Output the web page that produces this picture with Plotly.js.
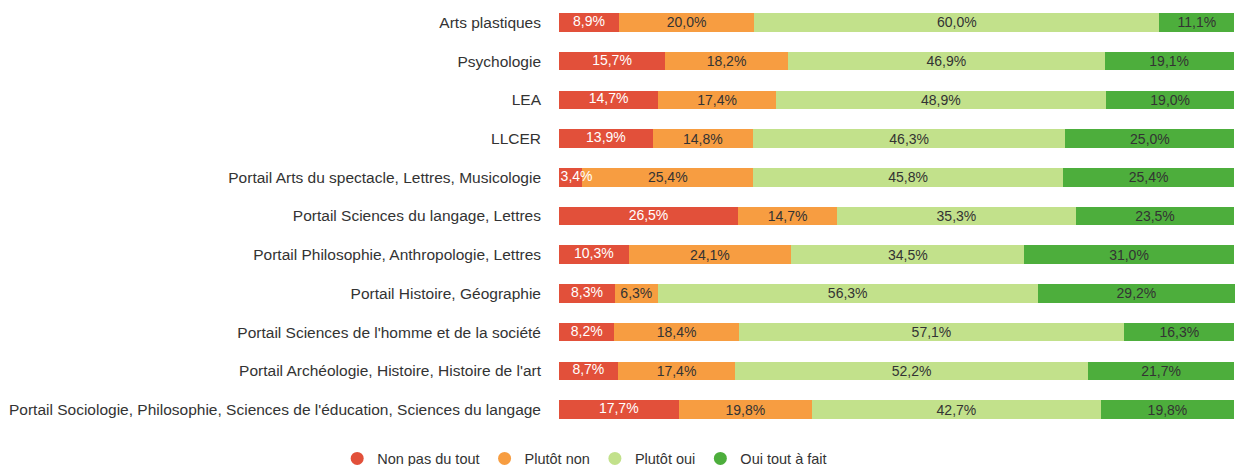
<!DOCTYPE html>
<html><head><meta charset="utf-8">
<script src="https://cdn.plot.ly/plotly-3.0.1.min.js"></script>
<style>html,body{margin:0;padding:0;background:#fff}#chart{width:1244px;height:466px}</style>
</head><body><div id="chart"></div>
<script>
const categories = [
  "Arts plastiques",
  "Psychologie",
  "LEA",
  "LLCER",
  "Portail Arts du spectacle, Lettres, Musicologie",
  "Portail Sciences du langage, Lettres",
  "Portail Philosophie, Anthropologie, Lettres",
  "Portail Histoire, Géographie",
  "Portail Sciences de l'homme et de la société",
  "Portail Archéologie, Histoire, Histoire de l'art",
  "Portail Sociologie, Philosophie, Sciences de l'éducation, Sciences du langage"
];
const seriesNames = ["Non pas du tout", "Plutôt non", "Plutôt oui", "Oui tout à fait"];
const nonPasDuTout = [8.9, 15.7, 14.7, 13.9, 3.4, 26.5, 10.3, 8.3, 8.2, 8.7, 17.7];
const plutotNon    = [20.0, 18.2, 17.4, 14.8, 25.4, 14.7, 24.1, 6.3, 18.4, 17.4, 19.8];
const plutotOui    = [60.0, 46.9, 48.9, 46.3, 45.8, 35.3, 34.5, 56.3, 57.1, 52.2, 42.7];
const ouiToutAFait = [11.1, 19.1, 19.0, 25.0, 25.4, 23.5, 31.0, 29.2, 16.3, 21.7, 19.8];

const seriesValues = [nonPasDuTout, plutotNon, plutotOui, ouiToutAFait];
const colors = ["#e2503a", "#f79d41", "#c2e18b", "#4dae3c"];
const textColors = ["#ffffff", "#333333", "#333333", "#333333"];
const fmt = v => v.toFixed(1).replace('.', ',') + '%';
const FONT = 'Liberation Sans, Arial, sans-serif';
const LABEL_SIZE = 14;
// minimal half-width of a label in axis units, so narrow first segments keep their label inside the plot
const MIN_HALF = 2.6;
const totals = categories.map((_, k) => seriesValues.reduce((s, arr) => s + arr[k], 0));
const xMax = Math.max(100, ...totals);

const traces = [];
seriesValues.forEach((vals, i) => {
  traces.push({
    type: 'bar', orientation: 'h',
    x: vals, y: categories,
    name: seriesNames[i],
    marker: {color: colors[i]},
    text: i === 0 ? vals.map(() => '') : vals.map(fmt),
    textposition: i === 0 ? 'none' : 'inside',
    insidetextanchor: 'middle',
    textangle: 0,
    constraintext: 'none',
    insidetextfont: {color: textColors[i], size: LABEL_SIZE, family: FONT},
    hoverinfo: 'skip',
    showlegend: false
  });
});
// labels of the first segment, drawn on top of all bars
traces.push({
  type: 'scatter', mode: 'text',
  x: nonPasDuTout.map(v => Math.max(v / 2, MIN_HALF)),
  y: categories,
  text: nonPasDuTout.map(fmt),
  textposition: 'middle center',
  textfont: {color: textColors[0], size: LABEL_SIZE, family: FONT},
  cliponaxis: false, hoverinfo: 'skip', showlegend: false
});
seriesNames.forEach((n, i) => {
  traces.push({
    type: 'scatter', mode: 'markers',
    x: [null], y: [null],
    name: n,
    marker: {color: colors[i], size: 13, symbol: 'circle'},
    showlegend: true, hoverinfo: 'skip'
  });
});

const layout = {
  width: 1244, height: 466,
  margin: {l: 559, r: 9, t: 3, b: 37},
  barmode: 'stack',
  bargap: 0.52,
  paper_bgcolor: '#fff', plot_bgcolor: '#fff',
  font: {family: FONT, size: 12, color: '#333'},
  uniformtext: {mode: 'show', minsize: LABEL_SIZE},
  xaxis: {range: [0, xMax], visible: false, fixedrange: true},
  yaxis: {
    type: 'category', range: [categories.length - 0.5, -0.5], autorange: false,
    showgrid: false, zeroline: false, showline: false,
    ticks: '', ticklabelstandoff: 17,
    tickfont: {size: 15.5, color: '#333', family: FONT}
  },
  legend: {
    orientation: 'h', xref: 'container', yref: 'container',
    x: 0.47, xanchor: 'center', y: 0.016, yanchor: 'middle',
    traceorder: 'normal',
    font: {size: 14.5, color: '#333', family: FONT},
    itemwidth: 30
  },
  showlegend: true
};
Plotly.newPlot('chart', traces, layout, {displayModeBar: false, staticPlot: true});
</script>
</body></html>
